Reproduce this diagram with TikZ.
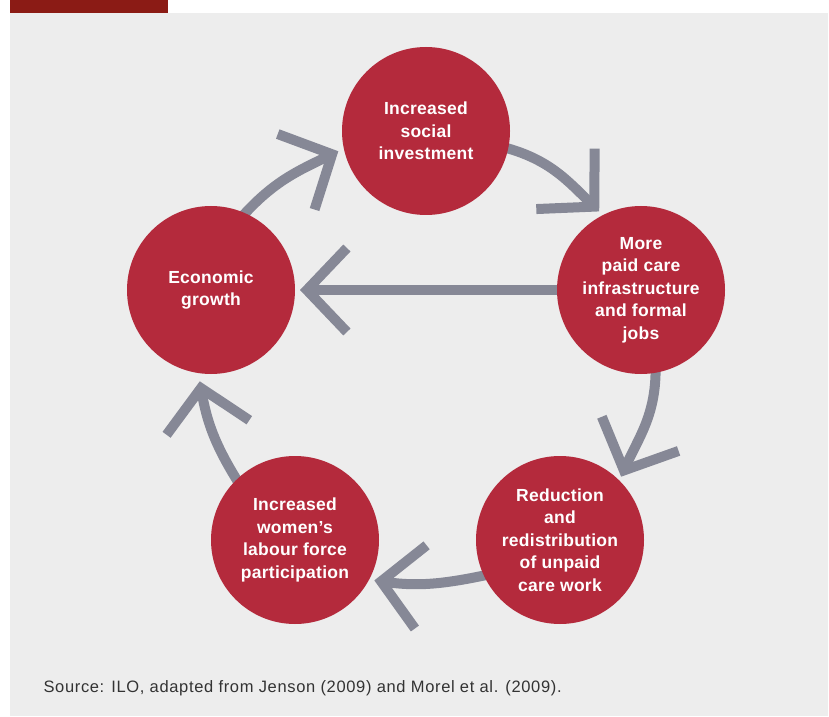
\documentclass[tikz,border=0pt]{standalone}
\usepackage{fontspec}
\setmainfont{Liberation Sans}
\newfontfamily\circfont{Liberation Sans}[LetterSpace=1.5]
\newfontfamily\srcfont{Liberation Sans}[LetterSpace=4]
\usetikzlibrary{arrows.meta,calc}
\definecolor{bggray}{HTML}{EDEDED}
\definecolor{barred}{HTML}{8B1B15}
\definecolor{circred}{HTML}{B42A3C}
\definecolor{arrgray}{HTML}{868896}
\definecolor{srctext}{HTML}{333333}
\pgfdeclarelayer{back}
\pgfsetlayers{back,main}
\begin{document}
\begin{tikzpicture}[x=1pt,y=1pt,
  stage/.style={circle, fill=circred, minimum size=168pt, inner sep=0pt, text=white, align=center,
    font=\circfont\bfseries\fontsize{17.5}{22.5}\selectfont},
  flow/.style={draw=arrgray, line width=10pt, shorten <=-4pt,
    -{Straight Barb[length=40pt,width=84pt]}}]
\useasboundingbox (0,0) rectangle (829,716);
\begin{pgfonlayer}{back}
\fill[bggray] (10,0) rectangle (828,703);
\fill[barred] (10,703) rectangle (168,716);
\end{pgfonlayer}

\node[stage] (soc) at (426,585) {Increased\\social\\investment};
\node[stage] (care) at (641,426) {More\\paid care\\infrastructure\\and formal\\jobs};
\node[stage] (red) at (560,176) {Reduction\\and\\redistribution\\of unpaid\\care work};
\node[stage] (wom) at (295,176) {Increased\\women’s\\labour force\\participation};
\node[stage] (eco) at (211,426) {Economic\\growth};

\coordinate (t1) at ($(soc)+(193:90)$);
\coordinate (t2) at ($(care)+(118:89)$);
\coordinate (t3) at ($(eco)+(0:89)$);
\coordinate (t4) at ($(red)+(46:88)$);
\coordinate (t5) at ($(wom)+(-27:89)$);
\coordinate (t6) at ($(eco)+(263:92)$);

\begin{pgfonlayer}{back}
\draw[flow] (eco.66) to[out=48,in=206] (t1);
\draw[flow] (soc.348) to[out=-15,in=136] (t2);
\draw[flow] (care.west) -- (t3);
\draw[flow] (care.280) to[out=-90,in=66] (t4);
\draw[flow] (red.205) to[out=192,in=-8] (t5);
\draw[flow] (wom.134) to[out=122,in=-80] (t6);
\end{pgfonlayer}

\node[anchor=base west, text=srctext, font=\srcfont\fontsize{16.5}{20}\selectfont] (src) at (40,24)
  {Source: ILO, adapted from Jenson (2009) and Morel et al. (2009).};
\end{tikzpicture}
\end{document}
